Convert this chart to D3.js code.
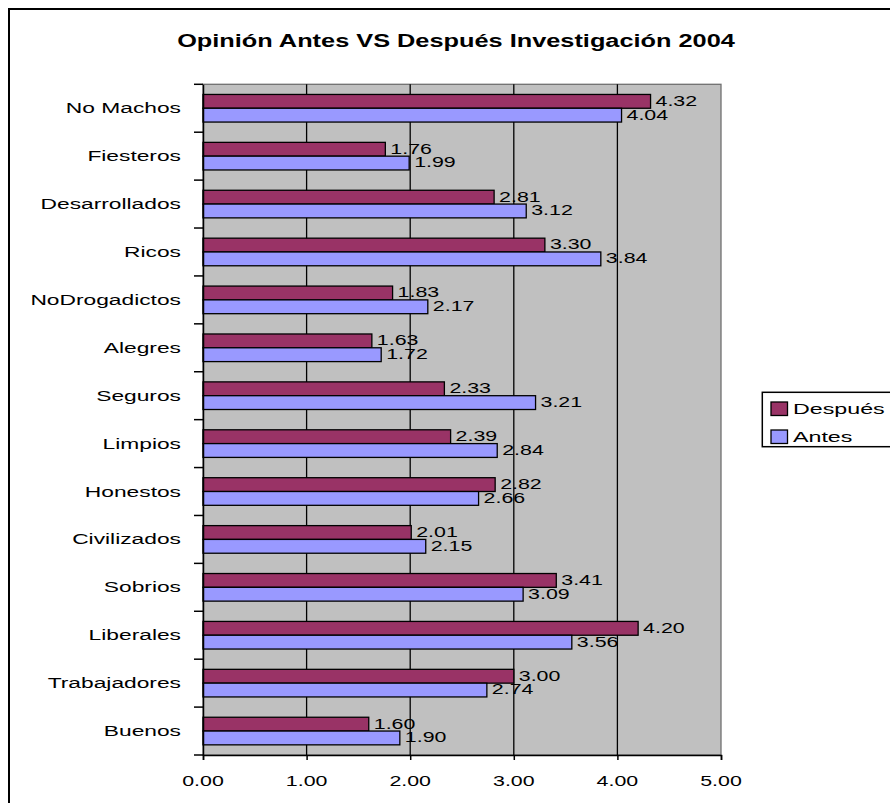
<!DOCTYPE html>
<html><head><meta charset="utf-8">
<script src="https://cdn.jsdelivr.net/npm/d3@7"></script>
<style>body{margin:0;background:#fff}svg{display:block}text{font-family:"Liberation Sans",Arial,sans-serif;fill:#000}</style>
</head><body>
<svg id="c" width="890" height="803"></svg>
<script>
const categories = ["No Machos","Fiesteros","Desarrollados","Ricos","NoDrogadictos","Alegres","Seguros","Limpios","Honestos","Civilizados","Sobrios","Liberales","Trabajadores","Buenos"];
const despues = [4.32,1.76,2.81,3.30,1.83,1.63,2.33,2.39,2.82,2.01,3.41,4.20,3.00,1.60];
const antes   = [4.04,1.99,3.12,3.84,2.17,1.72,3.21,2.84,2.66,2.15,3.09,3.56,2.74,1.90];
const seriesNames = ["Después","Antes"];
const seriesColors = ["#993366","#9999FF"];
const xTicks = [0,1,2,3,4,5];
const title = "Opinión Antes VS Después Investigación 2004";

const svg = d3.select("#c");
const SX = 1.38, SXC = 1.47, SXL = 1.55;
const L = 203, R = 721, T = 84.3, B = 755;

// outer border
svg.append("rect").attr("x",9).attr("y",9).attr("width",1000).attr("height",1000)
  .attr("fill","none").attr("stroke","#000").attr("stroke-width",2);

const x = d3.scaleLinear().domain([0,5]).range([L,R]);
const y = d3.scaleBand().domain(categories).range([T,B]).paddingInner(0).paddingOuter(0);
const bw = y.bandwidth();
const inner = d3.scaleBand().domain(seriesNames).range([0,bw]).paddingInner(0).paddingOuter(0.75*0.98);

// plot area
svg.append("rect").attr("x",L).attr("y",T).attr("width",R-L).attr("height",B-T).attr("fill","#c0c0c0")
  .attr("stroke","#707070").attr("stroke-width",1.3);

// gridlines
svg.append("g").selectAll("line").data(xTicks.filter(d=>d>0&&d<5)).join("line")
  .attr("x1",d=>x(d)).attr("x2",d=>x(d)).attr("y1",T).attr("y2",B)
  .attr("stroke","#000").attr("stroke-width",1.3);

// bars
const data = [despues, antes];
categories.forEach((c,i)=>{
  seriesNames.forEach((s,j)=>{
    const v = data[j][i];
    const by = y(c)+inner(s);
    svg.append("rect").attr("x",x(0)).attr("y",by).attr("width",x(v)-x(0)).attr("height",inner.bandwidth())
      .attr("fill",seriesColors[j]).attr("stroke","#000").attr("stroke-width",1.3);
  });
});
// labels
categories.forEach((c,i)=>{
  seriesNames.forEach((s,j)=>{
    const v = data[j][i];
    const by = y(c)+inner(s);
    svg.append("text").attr("transform",`translate(${x(v)+5},${by+inner.bandwidth()-2.5}) scale(${SX},1)`)
      .attr("font-size",15.5).text(v.toFixed(2));
  });
});

// axes
const xAxis = d3.axisBottom(x).tickValues(xTicks).tickSize(5).tickFormat(d=>d.toFixed(2));
const gx = svg.append("g").attr("transform",`translate(0,${B})`).call(xAxis);
gx.select(".domain").attr("stroke","#000").attr("stroke-width",1.5);
gx.selectAll(".tick line").attr("stroke","#000").attr("stroke-width",1.5);
gx.selectAll(".tick text").remove();
xTicks.forEach(t=>{
  svg.append("text").attr("transform",`translate(${x(t)},786) scale(${SX},1)`).attr("text-anchor","middle")
    .attr("font-size",15.5).text(t.toFixed(2));
});

const yAxis = d3.axisLeft(y).tickSize(0).tickFormat("");
const gy = svg.append("g").attr("transform",`translate(${L},0)`).call(yAxis);
gy.select(".domain").attr("stroke","#000").attr("stroke-width",1.5);
// boundary ticks
const bounds = categories.map(c=>y(c)).concat([B]);
svg.append("g").selectAll("line").data(bounds).join("line")
  .attr("x1",L-9).attr("x2",L).attr("y1",d=>d).attr("y2",d=>d).attr("stroke","#000").attr("stroke-width",1.5);

categories.forEach(c=>{
  svg.append("text").attr("transform",`translate(181,${y(c)+bw/2+5})  scale(${SXC},1)`).attr("text-anchor","end")
    .attr("font-size",15.5).text(c);
});

// title
const tt = svg.append("text").attr("font-size",18.5).attr("font-weight","bold").attr("text-anchor","middle").text(title);
const tw = tt.node().getComputedTextLength();
const tsx = 558/tw;
tt.attr("transform",`translate(456,46.7) scale(${tsx},1)`);

// legend
svg.append("rect").attr("x",762.3).attr("y",392.3).attr("width",200).attr("height",54.4)
  .attr("fill","#fff").attr("stroke","#000").attr("stroke-width",1.5);
seriesNames.forEach((s,j)=>{
  const ly = 402 + j*28;
  svg.append("rect").attr("x",771).attr("y",ly).attr("width",16.5).attr("height",13.5)
    .attr("fill",seriesColors[j]).attr("stroke","#000").attr("stroke-width",1.3);
  svg.append("text").attr("transform",`translate(793,${ly+11.5}) scale(${SXL},1)`).attr("font-size",15).text(s);
});
</script>
</body></html>
